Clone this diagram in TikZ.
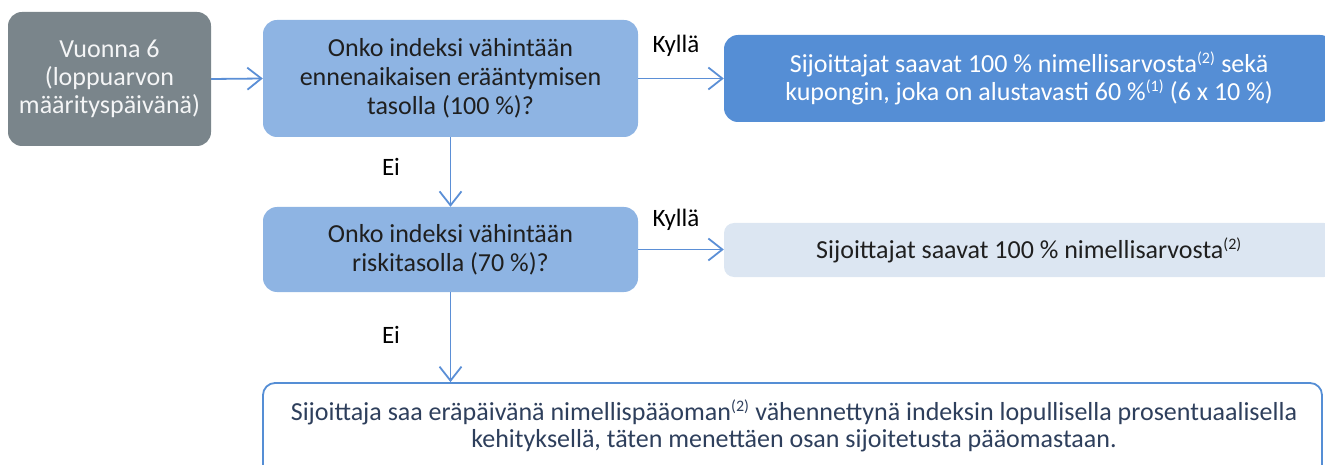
\documentclass[tikz,border=0pt]{standalone}
\usepackage{fontspec}
\setmainfont{Carlito}
\usetikzlibrary{arrows.meta}
\definecolor{greybox}{HTML}{7A858B}
\definecolor{qblue}{HTML}{8EB4E3}
\definecolor{ablue}{HTML}{558ED5}
\definecolor{lblue}{HTML}{DCE6F2}
\definecolor{arrowc}{HTML}{5B8FD6}
\definecolor{txt}{HTML}{1F1F1F}
\definecolor{txtb}{HTML}{2E3F5C}
\newcommand{\sups}[1]{\textsuperscript{\fontsize{16}{16}\selectfont #1}}
\tikzset{
  x=1pt,y=-1pt,
  box/.style={rounded corners=14pt, inner sep=0pt, align=center, font=\fontsize{26}{29}\selectfont},
  conn/.style={draw=arrowc, line width=1.8pt, -{Straight Barb[length=14pt,width=22pt,line width=1.8pt]}},
  lab/.style={font=\fontsize{25}{27}\selectfont, text=black, inner sep=0pt}
}
\begin{document}
\begin{tikzpicture}
\useasboundingbox (0,0) rectangle (1325,465);
\begin{scope}
\clip (0,0) rectangle (1325,465);
\node[box, fill=greybox, text=white!92!greybox, minimum width=203pt, minimum height=134pt, font=\fontsize{26}{28}\selectfont] (start) at (109.5,79) {Vuonna 6\\(loppuarvon\\määrityspäivänä)};
\node[box, fill=qblue, text=txt, minimum width=375pt, minimum height=117pt] (q1) at (450.5,78.5) {Onko indeksi vähintään\\ennenaikaisen erääntymisen\\tasolla (100 \%)?};
\node[box, fill=ablue, text=white, minimum width=610pt, minimum height=87pt, font=\fontsize{26}{28}\selectfont] (a1) at (1029,78.5) {Sijoittajat saavat 100 \% nimellisarvosta\sups{(2)} sekä\\kupongin, joka on alustavasti 60 \%\sups{(1)} (6 x 10 \%)};
\node[box, fill=qblue, text=txt, minimum width=375pt, minimum height=85pt] (q2) at (450.5,249.5) {Onko indeksi vähintään\\riskitasolla (70 \%)?};
\node[box, fill=lblue, text=txt, minimum width=610pt, minimum height=54pt, rounded corners=10pt] (a2) at (1029,250) {Sijoittajat saavat 100 \% nimellisarvosta\sups{(2)}};
\node[box, draw=ablue, line width=1.8pt, fill=white, minimum width=1059pt, minimum height=96pt, rounded corners=12pt] (bot) at (792.5,431) {};
\node[font=\fontsize{26}{27}\selectfont, text=txtb, align=center, inner sep=0pt] (bottxt) at (794,426) {Sijoittaja saa eräpäivänä nimellispääoman\sups{(2)} vähennettynä indeksin lopullisella prosentuaalisella\\kehityksellä, täten menettäen osan sijoitetusta pääomastaan.};
\draw[conn] (start.east) -- (q1.west);
\draw[conn] (q1.east) -- (a1.west);
\draw[conn] (q1.south) -- (q2.north);
\draw[conn] (q2.east) -- (a2.west |- q2.east);
\draw[conn] (q2.south) -- (bot.north -| q2.south);
\node[lab] (y1) at (676,46) {Kyllä};
\node[lab] (y2) at (676,220) {Kyllä};
\node[lab] (n1) at (391,167) {Ei};
\node[lab] (n2) at (391,335) {Ei};
\end{scope}
\end{tikzpicture}
\end{document}
